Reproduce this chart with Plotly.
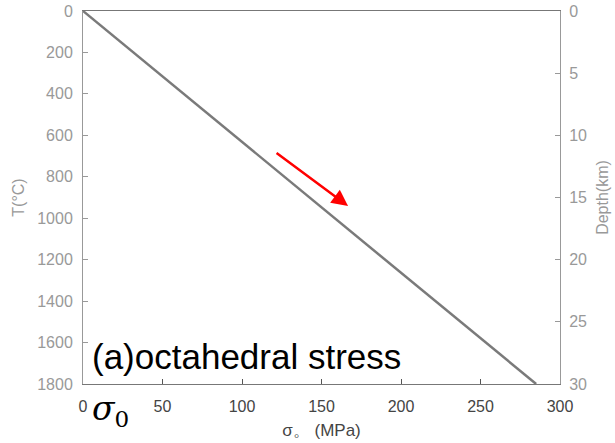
import plotly.graph_objects as go

stress = [0, 285]          # MPa
temperature = [0, 1800]    # °C
depth_range = [0, 30]      # km
x_ticks = [0, 50, 100, 150, 200, 250, 300]
y_ticks = [0, 200, 400, 600, 800, 1000, 1200, 1400, 1600, 1800]
y2_ticks = [0, 5, 10, 15, 20, 25, 30]
arrow_start = (120.8, 680)
arrow_end = (166.7, 941)

gray = "#999999"
dark = "#444444"
fig = go.Figure()
fig.add_trace(go.Scatter(x=stress, y=temperature, mode="lines",
                         line=dict(color="#7a7a7a", width=2.5), showlegend=False,
                         hoverinfo="skip"))
fig.add_trace(go.Scatter(x=[None], y=[None], yaxis="y2", showlegend=False))

fig.update_layout(
    width=615, height=443,
    margin=dict(l=83, r=55, t=11, b=59, autoexpand=False),
    plot_bgcolor="white", paper_bgcolor="white",
    font=dict(family="Liberation Sans, Arial, sans-serif", size=16, color=gray),
    xaxis=dict(range=[0, 300], tickvals=x_ticks, ticks="inside", ticklen=5,
               tickcolor="#555", showline=True, linecolor="#777", linewidth=1,
               mirror=True, showgrid=False, zeroline=False, ticklabelstandoff=8,
               automargin=False,
               tickfont=dict(color=dark, size=16),
               title=dict(text="σ。 (MPa)", font=dict(size=17, color=dark), standoff=9)),
    yaxis=dict(range=[1800, 0], tickvals=y_ticks, ticks="inside", ticklen=5,
               tickcolor=gray, showline=True, linecolor=gray, linewidth=1,
               showgrid=False, zeroline=False, ticklabelstandoff=6, automargin=False,
               tickfont=dict(color=gray, size=16),
               title=dict(text="T(°C)", font=dict(size=16, color=gray), standoff=8)),
    yaxis2=dict(range=[30, 0], tickvals=y2_ticks, overlaying="y", side="right",
                ticks="inside", ticklen=5, tickcolor=gray, showline=True,
                linecolor=gray, linewidth=1, showgrid=False, zeroline=False,
                ticklabelstandoff=5, automargin=False,
                tickfont=dict(color=gray, size=16),
                title=dict(text="Depth(km)", font=dict(size=16, color=gray), standoff=10)),
)

fig.add_annotation(x=arrow_end[0], y=arrow_end[1], ax=arrow_start[0], ay=arrow_start[1],
                   xref="x", yref="y", axref="x", ayref="y", text="",
                   showarrow=True, arrowhead=2, arrowsize=1.3, arrowwidth=2.5,
                   arrowcolor="red")
fig.add_annotation(x=0.015, y=1665, xref="paper", yref="y", text="(a)octahedral stress",
                   showarrow=False, xanchor="left", yanchor="middle",
                   font=dict(size=35, color="black", family="Liberation Sans, Arial"))
fig.add_annotation(x=0.015, y=-0.07, xref="paper", yref="paper",
                   text="<i>σ</i><sub>0</sub>", showarrow=False,
                   xanchor="left", yanchor="middle",
                   font=dict(size=33, color="black", family="DejaVu Serif, serif"))

fig.write_html("out.html")
